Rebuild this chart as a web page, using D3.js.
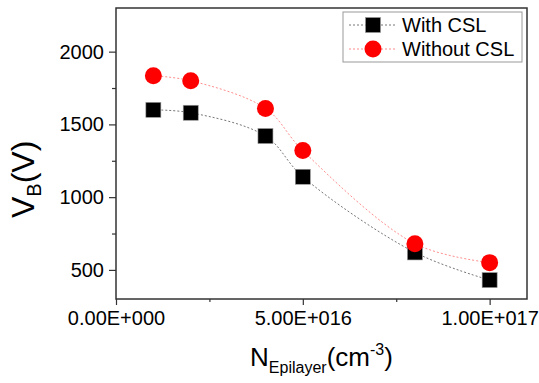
<!DOCTYPE html>
<html>
<head>
<meta charset="utf-8">
<script src="https://cdn.jsdelivr.net/npm/d3@7"></script>
<style>
  body { margin: 0; background: #fff; }
  svg { font-family: "Liberation Sans", Arial, sans-serif; }
</style>
</head>
<body>
<div id="chart"></div>
<script>
// Doping concentration (cm^-3) and breakdown voltages (V)
const doping = [1e16, 2e16, 4e16, 5e16, 8e16, 1e17];
const withCSL = [1600, 1580, 1420, 1140, 620, 430];
const withoutCSL = [1835, 1800, 1610, 1320, 680, 550];
const xTicks = [0, 5e16, 1e17];
const xTickLabels = ["0.00E+000", "5.00E+016", "1.00E+017"];
const yTicks = [500, 1000, 1500, 2000];

const width = 539, height = 383;
const margin = {top: 8, right: 12, bottom: 84, left: 116};
const innerW = width - margin.left - margin.right;
const innerH = height - margin.top - margin.bottom;

const svg = d3.select("#chart").append("svg")
    .attr("width", width)
    .attr("height", height);

const g = svg.append("g")
    .attr("transform", "translate(" + margin.left + "," + margin.top + ")");

// Scales
const x = d3.scaleLinear().domain([0, 1.1e17]).range([0, innerW]);
const y = d3.scaleLinear().domain([300, 2300]).range([innerH, 0]);

// Frame
g.append("rect")
    .attr("width", innerW)
    .attr("height", innerH)
    .attr("fill", "none")
    .attr("stroke", "#333")
    .attr("stroke-width", 1.5);

// Axes (major + minor ticks)
const xAxis = d3.axisBottom(x).tickValues(xTicks).tickSize(6).tickPadding(6)
    .tickFormat((d, i) => xTickLabels[i]);
const xMinor = d3.axisBottom(x).tickValues([2.5e16, 7.5e16]).tickSize(3).tickFormat("");
const yAxis = d3.axisLeft(y).tickValues(yTicks).tickSize(7).tickPadding(5)
    .tickFormat(d3.format("d"));
const yMinor = d3.axisLeft(y).tickValues([750, 1250, 1750]).tickSize(4).tickFormat("");

function styleAxis(sel) {
    sel.select(".domain").remove();
    sel.selectAll("line").attr("stroke", "#333").attr("stroke-width", 1.2);
    sel.selectAll("text").attr("fill", "#000").style("font-size", "20px");
}

g.append("g").attr("transform", "translate(0," + innerH + ")").call(xAxis).call(styleAxis);
g.append("g").attr("transform", "translate(0," + innerH + ")").call(xMinor).call(styleAxis);
g.append("g").call(yAxis).call(styleAxis);
g.append("g").call(yMinor).call(styleAxis);

// Series
const series = [
    {name: "With CSL", values: withCSL, color: "#000", lineColor: "#666", shape: "square"},
    {name: "Without CSL", values: withoutCSL, color: "#ff0000", lineColor: "#ff8080", shape: "circle"}
];

const line = d3.line()
    .x(d => x(d[0]))
    .y(d => y(d[1]))
    .curve(d3.curveCatmullRom.alpha(0.5));

function drawMarker(sel, s, cx, cy) {
    if (s.shape === "square") {
        sel.append("rect")
            .attr("x", cx - 7.5).attr("y", cy - 7.5)
            .attr("width", 15).attr("height", 15)
            .attr("fill", s.color)
            .attr("stroke", "#999").attr("stroke-width", 0.6);
    } else {
        sel.append("circle")
            .attr("cx", cx).attr("cy", cy).attr("r", 8.5)
            .attr("fill", s.color);
    }
}

series.forEach(s => {
    const pts = doping.map((d, i) => [d, s.values[i]]);
    g.append("path")
        .datum(pts)
        .attr("d", line)
        .attr("fill", "none")
        .attr("stroke", s.lineColor)
        .attr("stroke-width", 0.9)
        .attr("stroke-dasharray", "2,2");
    const mg = g.append("g");
    pts.forEach(p => drawMarker(mg, s, x(p[0]), y(p[1])));
});

// Legend
const legend = svg.append("g").attr("transform", "translate(343,12)");
legend.append("rect")
    .attr("width", 179).attr("height", 50)
    .attr("fill", "#fff")
    .attr("stroke", "#999").attr("stroke-width", 1);

series.forEach((s, i) => {
    const ly = 13 + i * 24;
    legend.append("line")
        .attr("x1", 6).attr("x2", 52)
        .attr("y1", ly).attr("y2", ly)
        .attr("stroke", s.lineColor)
        .attr("stroke-width", 0.9)
        .attr("stroke-dasharray", "2,2");
    drawMarker(legend, s, 30, ly);
    legend.append("text")
        .attr("x", 59).attr("y", ly + 7)
        .style("font-size", "20px")
        .text(s.name);
});

// Axis titles
const yTitle = svg.append("text")
    .attr("transform", "translate(34,218) rotate(-90)")
    .style("font-size", "32px");
yTitle.append("tspan").text("V");
yTitle.append("tspan").attr("dy", 7).style("font-size", "20px").text("B");
yTitle.append("tspan").attr("dy", -7).text("(V)");

const xTitle = svg.append("text")
    .attr("x", margin.left + innerW / 2)
    .attr("y", 366)
    .attr("text-anchor", "middle")
    .style("font-size", "26px");
xTitle.append("tspan").text("N");
xTitle.append("tspan").attr("dy", 7).style("font-size", "16px").text("Epilayer");
xTitle.append("tspan").attr("dy", -7).text("(cm");
xTitle.append("tspan").attr("dy", -11).style("font-size", "16px").text("-3");
xTitle.append("tspan").attr("dy", 11).text(")");
</script>
</body>
</html>
